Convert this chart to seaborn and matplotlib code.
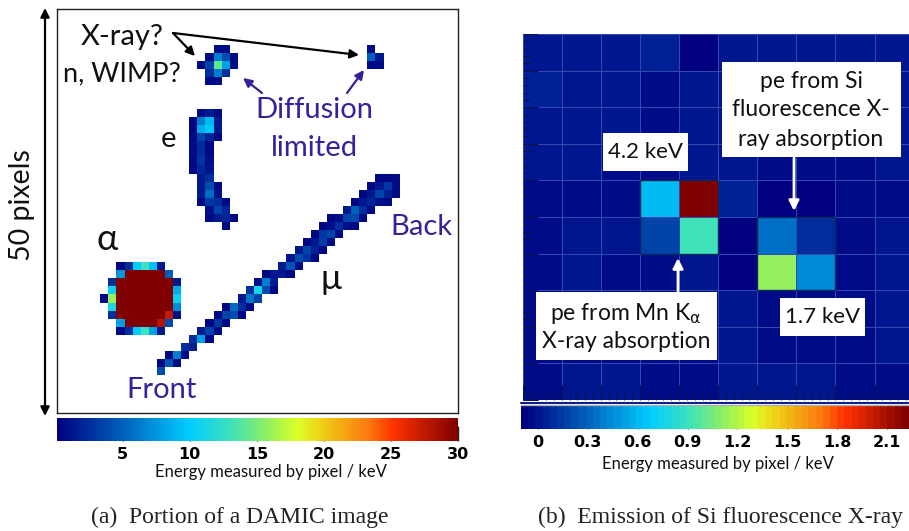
import matplotlib
matplotlib.use("Agg")
import matplotlib.pyplot as plt
import numpy as np
import seaborn as sns
from matplotlib.colors import LinearSegmentedColormap
from matplotlib.patches import Rectangle

W, H = 909, 531

# left panel: tracks as (row, first column, pixel energies in keV)
xray_a = [(4, 19, [0.7, 0.8]),
          (5, 18, [0.8, 6.5, 4.0, 0.7]),
          (6, 17, [0.6, 3.5, 14.0, 8.0, 0.7]),
          (7, 18, [2.5, 6.5, 2.5]),
          (8, 18, [0.6, 0.8])]
xray_b = [(4, 38, [0.7]),
          (5, 38, [5.0, 1.5]),
          (6, 38, [0.6, 0.8])]
electron = [(12, 17, [0.8, 1.5, 0.8]),
            (13, 16, [0.5, 6.5, 9.0, 1.5]),
            (14, 16, [0.5, 8.5, 9.8, 1.5]),
            (15, 16, [0.6, 3.5, 2.0, 0.5]),
            (16, 16, [0.8, 2.3, 0.5]),
            (17, 16, [0.8, 2.5, 0.5]),
            (18, 16, [0.6, 3.0, 1.0]),
            (19, 16, [0.5, 2.2, 1.2]),
            (20, 17, [1.5, 2.5]),
            (21, 17, [1.5, 4.0, 0.6]),
            (22, 17, [1.5, 5.5, 1.1]),
            (23, 17, [0.5, 3.0, 2.5, 0.7]),
            (24, 18, [1.0, 3.5, 2.0]),
            (25, 18, [0.6, 1.5, 2.0, 0.5]),
            (26, 20, [0.5])]
alpha = [(31, 7, [0.5, 2.5, 10, 13, 9.5, 1.5]),
         (32, 7, [7.5, 30, 30, 30, 30, 30, 5]),
         (33, 6, [2.5, 30, 30, 30, 30, 30, 30, 30, 1.5]),
         (34, 6, [10.5, 30, 30, 30, 30, 30, 30, 30, 8.5]),
         (35, 5, [0.5, 16, 30, 30, 30, 30, 30, 30, 30, 10.5]),
         (36, 6, [11.5, 30, 30, 30, 30, 30, 30, 30, 7]),
         (37, 6, [2.5, 30, 30, 30, 30, 30, 30, 27.5, 1]),
         (38, 7, [8, 30, 30, 30, 30, 28, 4]),
         (39, 7, [0.5, 2.5, 10, 13, 8, 1.5])]
muon = [(20, 39, [0.5, 0.5, 0.7]),
        (21, 38, [0.5, 1.5, 3.0, 0.7]),
        (22, 37, [0.5, 1.3, 3.5, 1.8, 0.7]),
        (23, 36, [0.5, 1.5, 2.0, 1.0, 0.7]),
        (24, 35, [1.5, 5.0, 2.5, 0.6]),
        (25, 33, [0.5, 0.9, 3.5, 4.0, 0.6]),
        (26, 32, [0.5, 1.0, 2.5, 1.0, 0.5]),
        (27, 31, [0.5, 3.0, 3.5, 0.7]),
        (28, 30, [0.5, 1.5, 3.2, 0.8]),
        (29, 29, [1.3, 3.5, 1.8, 0.5]),
        (30, 28, [1.2, 4.0, 2.7, 0.5]),
        (31, 27, [1.5, 4.5, 0.7]),
        (32, 25, [0.5, 1.3, 1.5, 0.5]),
        (33, 24, [1.0, 6.5, 1.6]),
        (34, 23, [2.5, 11, 4.0, 0.5]),
        (35, 22, [1.5, 6.0, 3.5]),
        (36, 20, [0.5, 5.5, 2.5, 0.5]),
        (37, 19, [0.5, 3.5, 4.0, 0.5]),
        (38, 18, [0.5, 3.0, 0.7]),
        (39, 17, [1.5, 3.5, 0.5]),
        (40, 16, [2.5, 8.0, 0.5]),
        (41, 15, [2.5, 1.8]),
        (42, 13, [0.5, 6.5, 0.8]),
        (43, 12, [0.5, 4.5, 0.8]),
        (44, 12, [4.0])]
tracks = [xray_a, xray_b, electron, alpha, muon]

# right panel: 10 x 10 pixel energies in keV
row_0 = [0.00, 0.00, 0.00, 0.03, -0.08, 0.00, 0.00, 0.00, 0.00, 0.01]
row_1 = [0.03, 0.02, 0.00, -0.02, 0.00, 0.00, 0.00, 0.00, 0.00, 0.00]
row_2 = [-0.01, 0.00, 0.00, -0.02, 0.00, -0.01, 0.00, 0.00, -0.02, 0.00]
row_3 = [0.00, -0.01, -0.02, -0.02, 0.00, 0.02, -0.02, -0.03, -0.05, 0.00]
row_4 = [-0.02, -0.02, -0.05, 0.60, 2.23, 0.04, -0.06, -0.06, -0.02, -0.02]
row_5 = [-0.02, -0.01, -0.01, 0.20, 0.93, -0.06, 0.34, 0.09, -0.02, -0.01]
row_6 = [-0.02, 0.00, -0.02, -0.03, 0.00, -0.07, 1.11, 0.44, -0.02, 0.00]
row_7 = [-0.02, -0.02, -0.02, -0.02, -0.02, 0.00, -0.02, -0.02, -0.03, 0.00]
row_8 = [-0.02, -0.02, -0.02, -0.02, -0.02, 0.00, -0.02, -0.03, -0.02, -0.01]
row_9 = [-0.02, 0.00, 0.00, -0.02, -0.02, 0.00, 0.00, 0.01, -0.02, -0.02]
si_rows = [row_0, row_1, row_2, row_3, row_4, row_5, row_6, row_7, row_8, row_9]
mn_cells = (3, 4, 2, 2)   # first col, first row, cols, rows
si_cells = (6, 5, 2, 2)

left_ticks = [5, 10, 15, 20, 25, 30]
right_ticks = [0, 0.3, 0.6, 0.9, 1.2, 1.5, 1.8, 2.1]
right_tick_labels = ["0", "0.3", "0.6", "0.9", "1.2", "1.5", "1.8", "2.1"]

sns.set_theme(style="white")
plt.rcParams["font.family"] = ["Lato", "DejaVu Sans"]
plt.rcParams["mathtext.fontset"] = "dejavusans"

stops = [(0.00, "#000080"), (0.17, "#0064be"), (0.33, "#00cdff"), (0.43, "#3ce1be"),
         (0.53, "#96f05a"), (0.60, "#dcff28"), (0.67, "#f0c814"), (0.78, "#fa780f"),
         (0.84, "#ff3200"), (1.00, "#800000")]
damic_cmap = LinearSegmentedColormap.from_list("damic", stops, N=256)
si_cmap = LinearSegmentedColormap.from_list("damic_steps", stops, N=54)


def place(x0, y0, x1, y1):
    return fig.add_axes([x0 / W, 1 - y1 / H, (x1 - x0) / W, (y1 - y0) / H])


fig = plt.figure(figsize=(W / 100, H / 100), dpi=100, facecolor="white")

# left image
grid = np.full((50, 50), np.nan)
for track in tracks:
    for row, col, vals in track:
        grid[row, col:col + len(vals)] = vals

ax_l = place(56.5, 8.5, 458, 413)
cax_l = place(57, 418, 458, 441)
sns.heatmap(grid, ax=ax_l, cbar_ax=cax_l, cmap=damic_cmap, vmin=0.1, vmax=30,
            xticklabels=False, yticklabels=False,
            cbar_kws={"orientation": "horizontal"})
ax_l.set_xlim(-0.41, 49.2)
ax_l.set_ylim(49.7, -0.47)
for sp in ax_l.spines.values():
    sp.set_visible(True)
    sp.set_color("#222222")
    sp.set_linewidth(1.0)

cax_l.tick_params(axis="x", direction="in", length=11, width=1.0, color="#222222",
                  bottom=True, pad=4)
cax_l.set_xticks(left_ticks)
cax_l.set_xticklabels([str(t) for t in left_ticks], fontsize=11.5, fontweight="bold",
                      family="DejaVu Sans", color="black")

# right image
ax_r = place(522.6, 34, 909, 400)
cax_r = place(521, 405, 909, 429)
sns.heatmap(np.array(si_rows), ax=ax_r, cbar_ax=cax_r, cmap=si_cmap, vmin=-0.1, vmax=2.23,
            linewidths=0.6, linecolor="#3348b0",
            xticklabels=False, yticklabels=False,
            cbar_kws={"orientation": "horizontal"})
ax_r.set_xlim(0, 9.88)
for col0, row0, nc, nr in [mn_cells, si_cells]:
    ax_r.add_patch(Rectangle((col0, row0), nc, nr, fill=False, ec="#0b2a5c", lw=1.0))
ax_r.set_axisbelow(False)  # the white style hides ticks under the mesh
ax_r.set_xticks(np.arange(0, 10))
ax_r.set_xticks(np.arange(0, 9.9, 0.2), minor=True)
ax_r.set_yticks(np.arange(0, 11))
ax_r.set_yticks(np.arange(0, 10.01, 0.2), minor=True)
ax_r.tick_params(which="major", direction="in", length=11, width=0.7, color="#101040",
                 left=True, bottom=True, labelleft=False, labelbottom=False)
ax_r.tick_params(which="minor", direction="in", length=5, width=0.7, color="#101040",
                 left=True, bottom=True)

cax_r.set_xticks(right_ticks)
cax_r.set_xticklabels(right_tick_labels, fontsize=11.5, fontweight="bold",
                      family="DejaVu Sans", color="black")
cax_r.tick_params(axis="x", direction="in", length=12, width=0.8, color="#333333",
                  bottom=True, pad=4)

# annotations in pixel coordinates
over = fig.add_axes([0, 0, 1, 1], facecolor="none")
over.set_xlim(0, W)
over.set_ylim(H, 0)
over.axis("off")
purple = "#38209a"


def label(x, y, s, size=21, color="#111111", ha="center", **kw):
    over.text(x, y, s, fontsize=size, color=color, ha=ha, va="center", **kw)


def arrow(x0, y0, x1, y1, color="black", lw=1.6, style="-|>", scale=13):
    over.annotate("", xy=(x1, y1), xytext=(x0, y0),
                  arrowprops=dict(arrowstyle=style, color=color, lw=lw, shrinkA=0, shrinkB=0,
                                  mutation_scale=scale))


label(122, 37, "X-ray?")
label(181, 74, "n, WIMP?", size=19.5, ha="right")
label(169, 139, "e")
label(107, 240, "α", size=26)
label(331, 279, "μ", size=25)
label(314, 110, "Diffusion", color=purple)
label(314, 148, "limited", color=purple)
label(421, 227, "Back", color=purple)
label(162, 390, "Front", color=purple)
label(22, 205, "50 pixels", size=20.5, rotation=90)

arrow(45, 216, 45, 8)
arrow(45, 216, 45, 416)
arrow(173, 33, 195, 56)
arrow(173, 33, 359, 55)
arrow(262, 93, 243, 78, color=purple)
arrow(347, 93, 364, 70, color=purple)

for x0, y0, x1, y1 in [(603, 133, 688, 171), (722, 62, 901, 157), (536, 292, 717, 360), (780, 298, 865, 336)]:
    over.add_patch(Rectangle((x0, y0), x1 - x0, y1 - y0, fc="white", ec="none"))

label(645.5, 152, "4.2 keV", size=16)
label(811, 82, "pe from Si", size=16.5)
label(811, 110, "fluorescence X-", size=16.5)
label(811, 140, "ray absorption", size=16.5)
label(626, 313, r"pe from Mn K$_{\mathrm{\alpha}}$", size=16.5)
label(626, 342, "X-ray absorption", size=16.5)
label(822.5, 317, "1.7 keV", size=16)

label(271, 472, "Energy measured by pixel / keV", size=12)
label(718, 464, "Energy measured by pixel / keV", size=12)

arrow(794, 158, 794, 211, color="white", lw=2, scale=15)
arrow(678, 291, 678, 258, color="white", lw=2, scale=15)

over.plot([521, 909], [403, 403], color="#10208a", lw=1.5)
over.plot([521, 909], [405, 405], color="#b0b0b0", lw=1.0)

over.text(240, 517, "(a)  Portion of a DAMIC image", fontsize=17, family="Liberation Serif",
          color="#222222", ha="center", va="center")
over.text(720, 517, "(b)  Emission of Si fluorescence X-ray", fontsize=17, family="Liberation Serif",
          color="#222222", ha="center", va="center")

fig.savefig("out.png", dpi=100)
